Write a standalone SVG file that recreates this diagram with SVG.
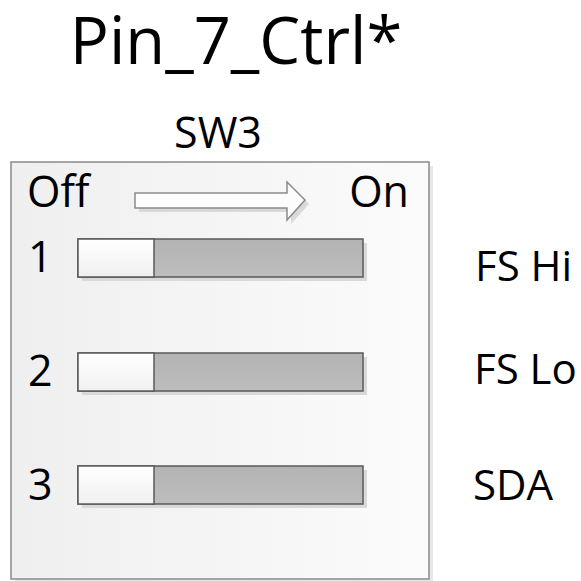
<svg xmlns="http://www.w3.org/2000/svg" width="581" height="581" viewBox="0 0 581 581">
<defs>
<linearGradient id="bg" x1="0" y1="0" x2="1" y2="0">
<stop offset="0" stop-color="#efefef"/>
<stop offset="1" stop-color="#fbfbfb"/>
</linearGradient>
<linearGradient id="knob" x1="0" y1="0" x2="0" y2="1">
<stop offset="0" stop-color="#ffffff"/>
<stop offset="1" stop-color="#f0f0f0"/>
</linearGradient>
<linearGradient id="track" x1="0" y1="0" x2="0" y2="1">
<stop offset="0" stop-color="#b3b3b3"/>
<stop offset="1" stop-color="#bdbdbd"/>
</linearGradient>
</defs>
<style>
text{font-family:"Open Sans","Noto Sans","Liberation Sans",sans-serif;fill:#000}
.shadow{fill:#d9d9d9}
.track{fill:url(#track);stroke:#5a5a5a;stroke-width:1.5}
.knob{fill:url(#knob);stroke:#5a5a5a;stroke-width:1.5}
.lbl{font-size:43px}
.sig{font-size:42px}
</style>
<rect width="581" height="581" fill="#ffffff"/>
<text x="236" y="64" font-size="65" text-anchor="middle">Pin_7_Ctrl*</text>
<text x="218" y="148" font-size="43" text-anchor="middle">SW3</text>
<g id="sw3">
<rect x="15" y="166" width="418" height="417" class="shadow" fill-opacity="0.6"/>
<rect x="11" y="162" width="418" height="417" fill="url(#bg)" stroke="#8a8a8a" stroke-width="1.5"/>
<text x="27" y="207" class="lbl">Off</text>
<text x="409" y="207" class="lbl" text-anchor="end">On</text>
<g id="arrow">
<polygon points="139,197 291,197 291,186 309,204 291,224 291,212 139,212" class="shadow"/>
<polygon points="135,193 287,193 287,182 305,200 287,220 287,208 135,208" fill="#fcfcfc" stroke="#8a8a8a" stroke-width="1.5"/>
</g>
</g>
<g id="switch1">
<text x="28" y="272" class="lbl">1</text>
<rect x="82" y="243" width="285" height="38" class="shadow"/>
<rect x="78" y="239" width="285" height="38" class="track"/>
<rect x="78" y="239" width="76" height="38" class="knob"/>
</g>
<g id="switch2">
<text x="28" y="386" class="lbl">2</text>
<rect x="82" y="357" width="285" height="38" class="shadow"/>
<rect x="78" y="353" width="285" height="38" class="track"/>
<rect x="78" y="353" width="76" height="38" class="knob"/>
</g>
<g id="switch3">
<text x="28" y="500" class="lbl">3</text>
<rect x="82" y="470" width="285" height="38" class="shadow"/>
<rect x="78" y="466" width="285" height="38" class="track"/>
<rect x="78" y="466" width="76" height="38" class="knob"/>
</g>
<text x="475" y="281" class="sig">FS Hi</text>
<text x="474" y="384" class="sig">FS Lo</text>
<text x="473" y="500" class="sig">SDA</text>
</svg>
